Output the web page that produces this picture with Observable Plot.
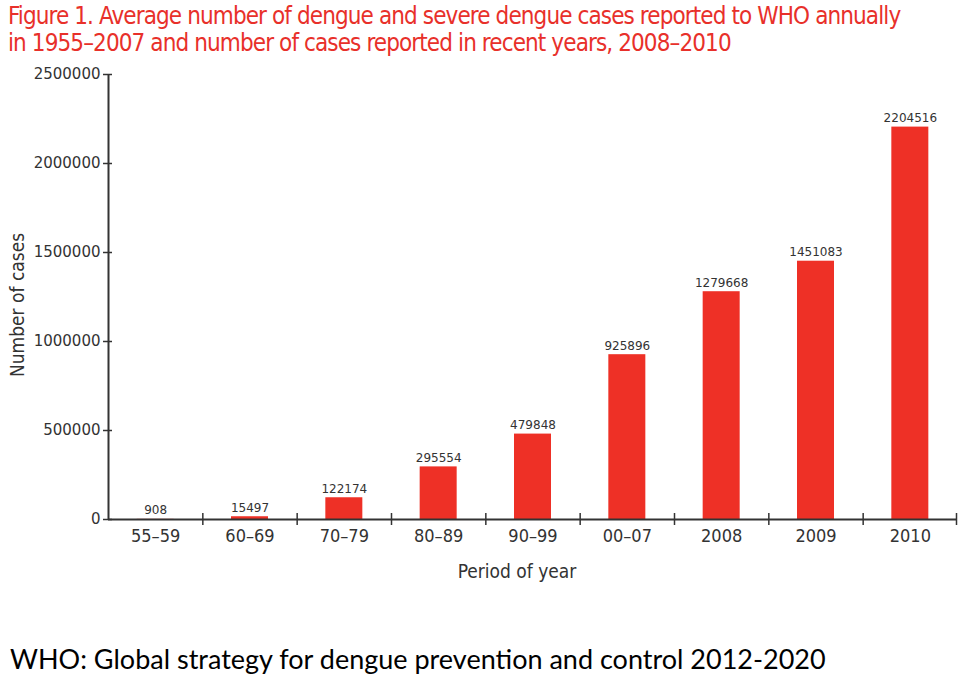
<!DOCTYPE html>
<html>
<head>
<meta charset="utf-8">
<script src="https://cdn.jsdelivr.net/npm/d3@7"></script>
<script src="https://cdn.jsdelivr.net/npm/@observablehq/plot@0.6"></script>
<style>
  html, body { margin: 0; padding: 0; background: #fff; }
  #wrap { width: 959px; height: 680px; position: relative; overflow: hidden; }
  #title { height: 60px; box-sizing: border-box; padding: 3px 0 0 8px; color: #e8302a;
           font-family: "DejaVu Sans Condensed", "DejaVu Sans", sans-serif;
           font-size: 24px; letter-spacing: -0.9px; line-height: 27px; white-space: nowrap; }
  #chart svg { display: block; }
  #caption { font-family: Lato, "Liberation Sans", sans-serif; font-size: 27px; color: #000;
             padding: 42px 0 0 10px; white-space: nowrap; }
</style>
</head>
<body>
<div id="wrap">
  <div id="title">Figure 1. Average number of dengue and severe dengue cases reported to WHO annually<br>in 1955–2007 and number of cases reported in recent years, 2008–2010</div>
  <div id="chart"></div>
  <div id="caption">WHO: Global strategy for dengue prevention and control 2012-2020</div>
</div>
<script>
const periods = ["55–59", "60–69", "70–79", "80–89", "90–99", "00–07", "2008", "2009", "2010"];
const cases = [908, 15497, 122174, 295554, 479848, 925896, 1279668, 1451083, 2204516];
const yTicks = [0, 500000, 1000000, 1500000, 2000000, 2500000];
const xLabel = "Period of year";
const yLabel = "Number of cases";

const data = periods.map((p, i) => ({period: p, cases: cases[i]}));

const W = 959, mL = 108, mR = 2;
const band = (W - mL - mR) / periods.length;
const barWidth = 37;
const inset = (band - barWidth) / 2;
const axisColor = "#333";
const condensed = "'DejaVu Sans Condensed', 'DejaVu Sans', sans-serif";

const chart = Plot.plot({
  width: W,
  height: 540,
  marginTop: 14,
  marginBottom: 81,
  marginLeft: mL,
  marginRight: mR,
  style: {background: "#fff", overflow: "visible"},
  x: {type: "band", domain: periods, paddingInner: 0, paddingOuter: 0, round: false},
  y: {domain: [0, yTicks[yTicks.length - 1]]},
  marks: [
    Plot.barY(data, {x: "period", y: "cases", fill: "#ee3026", insetLeft: inset, insetRight: inset}),
    Plot.text(data, {x: "period", y: "cases", text: d => String(d.cases), dy: -5, lineAnchor: "bottom",
                     fontSize: 12, fill: "#333", fontFamily: "'DejaVu Sans', sans-serif"}),
    // axis lines
    Plot.ruleY([0], {stroke: axisColor, strokeWidth: 2}),
    Plot.ruleX([periods[0]], {x: d => d, y1: 0, y2: yTicks[yTicks.length - 1], dx: -band / 2, stroke: axisColor, strokeWidth: 2}),
    // x boundary ticks
    Plot.ruleX(periods.slice(1), {x: d => d, y1: 0, y2: 0, dx: -band / 2, insetTop: -6, insetBottom: -6, stroke: axisColor, strokeWidth: 1.5}),
    Plot.ruleX([periods[periods.length - 1]], {x: d => d, y1: 0, y2: 0, dx: band / 2 - 1, insetTop: -6, insetBottom: -6, stroke: axisColor, strokeWidth: 1.5}),
    Plot.axisY(yTicks, {tickSize: 9, tickPadding: 3, dx: 4, tickFormat: d => String(d), label: null,
                        fontSize: 15, fontFamily: "'DejaVu Sans', sans-serif", color: axisColor, strokeWidth: 1.5}),
    Plot.axisX({tickSize: 0, tickPadding: 10, label: null, fontSize: 18,
                fontFamily: condensed, color: axisColor}),
    Plot.text([xLabel], {text: d => d, frameAnchor: "bottom", textAnchor: "middle", dx: -16, dy: 58, fontSize: 19,
                         fontFamily: condensed, fill: axisColor}),
    Plot.text([yLabel], {text: d => d, frameAnchor: "left", textAnchor: "middle", dx: -91, dy: 8, rotate: -90, fontSize: 19,
                         fontFamily: condensed, fill: axisColor})
  ]
});
document.getElementById("chart").appendChild(chart);
</script>
</body>
</html>
